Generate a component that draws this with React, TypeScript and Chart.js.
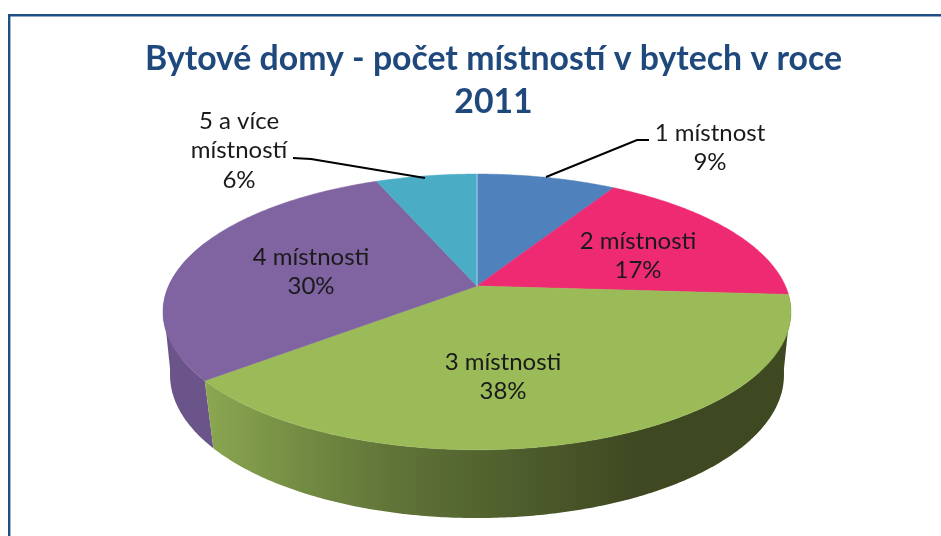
import React, { useEffect, useRef } from "react";
import { Chart, registerables } from "chart.js";

Chart.register(...registerables);

const titleLines = ["Bytové domy - počet místností v bytech v roce", "2011"];
const categories = ["1 místnost", "2 místnosti", "3 místnosti", "4 místnosti", "5 a více místností"];
const shares = [8.6, 17.4, 38.2, 29.55, 6.25];
const topColors = ["#4f81bd", "#ee2a72", "#9bbb59", "#8064a2", "#4bacc6"];
const labelLines = [
  ["1 místnost", "9%"],
  ["2 místnosti", "17%"],
  ["3 místnosti", "38%"],
  ["4 místnosti", "30%"],
  ["5 a více", "místností", "6%"],
];
const labelCenters = [
  [710, 133],
  [638, 241],
  [503, 362],
  [311, 257],
  [239, 121],
];
const leaders = [
  [[546, 177], [637, 140], [649, 140]],
  null,
  null,
  null,
  [[293, 158], [311, 159], [425, 178]],
];

const TOP_DISC = { cx: 477, cy: 286, a: 133, b: 308.4, k: 0.188 };
const BOTTOM_DISC = { cx: 477, cy: 350.7, a: 138.9, b: 302.5, k: 0.17 };
const FRONT_FROM = (94 * Math.PI) / 180;
const FRONT_TO = (290 * Math.PI) / 180;
const deg = (d: number) => (d * Math.PI) / 180;

type Disc = typeof TOP_DISC;

function project(d: Disc, theta: number, r = 1) {
  const u = r * Math.sin(theta);
  const v = -r * Math.cos(theta);
  const w = 1 - d.k * v;
  return [d.cx + (d.b * u) / w, d.cy + (d.a * v) / w];
}

function traceRim(ctx: CanvasRenderingContext2D, d: Disc, from: number, to: number) {
  const steps = Math.max(2, Math.ceil(Math.abs(to - from) / 0.01));
  for (let i = 0; i <= steps; i++) {
    const [x, y] = project(d, from + ((to - from) * i) / steps);
    ctx.lineTo(x, y);
  }
}

const pie3d = {
  id: "pie3d",
  beforeDraw(chart: any) {
    const ctx = chart.ctx as CanvasRenderingContext2D;
    ctx.save();
    ctx.fillStyle = "#ffffff";
    ctx.fillRect(0, 0, chart.width, chart.height);
    ctx.strokeStyle = "#1f4e86";
    ctx.lineWidth = 2.4;
    ctx.beginPath();
    ctx.moveTo(9.2, 536);
    ctx.lineTo(9.2, 15.2);
    ctx.lineTo(941, 15.2);
    ctx.stroke();
    ctx.restore();
  },
  beforeDatasetDraw(chart: any, args: any) {
    const ctx = chart.ctx as CanvasRenderingContext2D;
    const arcs = args.meta.data.map((el: any) => ({
      from: el.startAngle + Math.PI / 2,
      to: el.endAngle + Math.PI / 2,
    }));
    ctx.save();
    // side wall
    const greenWall = ctx.createLinearGradient(205, 0, 640, 0);
    greenWall.addColorStop(0, "#8ba751");
    greenWall.addColorStop(0.22, "#738c43");
    greenWall.addColorStop(0.45, "#5f7237");
    greenWall.addColorStop(0.7, "#4f5f2d");
    greenWall.addColorStop(1, "#3e4821");
    const walls = ["#3f5f8a", "#a81d50", greenWall, "#6b5489", "#357a8c"];
    [3, 4, 0, 1, 2].forEach((i) => {
      const from = Math.max(arcs[i].from, FRONT_FROM);
      const to = Math.min(arcs[i].to, FRONT_TO);
      if (to <= from) return;
      ctx.beginPath();
      const p = project(TOP_DISC, from);
      ctx.moveTo(p[0], p[1]);
      traceRim(ctx, TOP_DISC, from, to);
      traceRim(ctx, BOTTOM_DISC, to, from);
      ctx.closePath();
      ctx.fillStyle = walls[i];
      ctx.fill();
    });
    // silhouette pieces: straight edge from the top rim's widest point to the bottom rim
    const hulls: [number, number, number, any][] = [
      [98, 107, 125, walls[2]],
      [262, 253, 240, walls[3]],
    ];
    hulls.forEach(([a, b, c, fill]) => {
      const p1 = project(TOP_DISC, deg(a));
      const p2 = project(BOTTOM_DISC, deg(b));
      const p3 = project(TOP_DISC, deg(c));
      ctx.beginPath();
      ctx.moveTo(p1[0], p1[1]);
      ctx.lineTo(p2[0], p2[1]);
      ctx.lineTo(p3[0], p3[1]);
      ctx.closePath();
      ctx.fillStyle = fill;
      ctx.fill();
    });
    // top surface
    arcs.forEach((arc: any, i: number) => {
      ctx.beginPath();
      ctx.moveTo(TOP_DISC.cx, TOP_DISC.cy);
      traceRim(ctx, TOP_DISC, arc.from, arc.to);
      ctx.closePath();
      ctx.fillStyle = topColors[i];
      ctx.fill();
      ctx.strokeStyle = topColors[i];
      ctx.lineWidth = 0.5;
      ctx.stroke();
    });
    // light seam at the first slice's start
    const seam = project(TOP_DISC, arcs[0].from);
    ctx.strokeStyle = "rgba(255,255,255,0.55)";
    ctx.lineWidth = 1;
    ctx.beginPath();
    ctx.moveTo(TOP_DISC.cx, TOP_DISC.cy);
    ctx.lineTo(seam[0], seam[1]);
    ctx.stroke();
    ctx.restore();
    return false;
  },
  afterDraw(chart: any) {
    const ctx = chart.ctx as CanvasRenderingContext2D;
    ctx.save();
    ctx.strokeStyle = "#000000";
    ctx.lineWidth = 2;
    leaders.forEach((pts) => {
      if (!pts) return;
      ctx.beginPath();
      pts.forEach(([x, y], i) => (i ? ctx.lineTo(x, y) : ctx.moveTo(x, y)));
      ctx.stroke();
    });
    ctx.fillStyle = "#1a1a1a";
    ctx.font = "24px Lato";
    ctx.textAlign = "center";
    ctx.textBaseline = "middle";
    labelLines.forEach((lines, i) => {
      lines.forEach((t, j) => {
        ctx.fillText(t, labelCenters[i][0], labelCenters[i][1] + j * 29.5);
      });
    });
    ctx.restore();
  },
};

export default function App() {
  const ref = useRef<HTMLCanvasElement>(null);
  useEffect(() => {
    document.body.style.margin = "0";
    const chart = new Chart(ref.current!, {
      type: "pie",
      data: {
        labels: categories,
        datasets: [{ data: shares, backgroundColor: topColors, borderWidth: 0 }],
      },
      options: {
        responsive: false,
        animation: false,
        layout: { padding: { left: 46, top: 38 } },
        plugins: {
          legend: { display: false },
          tooltip: { enabled: false },
          title: {
            display: true,
            text: titleLines,
            color: "#1f497d",
            font: { family: "Lato", size: 33.8, weight: "bold", lineHeight: 1.27 },
            padding: 0,
            fullSize: false,
          },
        },
      },
      plugins: [pie3d],
    } as any);
    return () => chart.destroy();
  }, []);
  return (
    <canvas
      ref={ref}
      width={941}
      height={536}
      style={{ display: "block", width: 941, height: 536 }}
    />
  );
}
